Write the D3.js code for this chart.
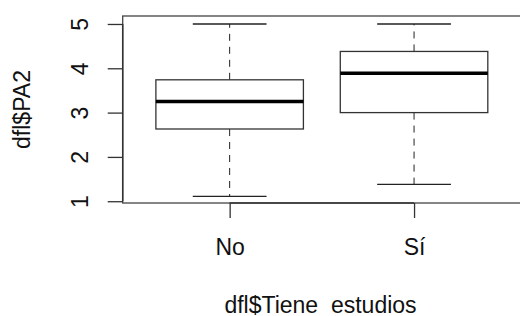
<!DOCTYPE html>
<meta charset="utf-8">
<script src="https://d3js.org/d3.v7.min.js"></script>
<style>
  body { margin: 0; background: #fff; }
  text { font-family: "Liberation Sans", Arial, sans-serif; fill: #111; }
</style>
<div id="chart"></div>
<script>
// boxplot data
const categories = ["No", "Sí"];
const lowWhisker = [1.11, 1.38];
const q1 = [2.63, 3.0];
const median = [3.25, 3.89];
const q3 = [3.74, 4.38];
const highWhisker = [5, 5];
const yTicks = [1, 2, 3, 4, 5];

const W = 520, H = 316;
const plot = {left: 122.7, right: 521, top: 16, bottom: 203};
const fs = 23;

const svg = d3.select("#chart").append("svg")
  .attr("width", W).attr("height", H);

// R style range: 0.5..n+0.5 plus 4%
const x = d3.scaleLinear().domain([0.42, 2.58]).range([plot.left, plot.right]);
const y = d3.scaleLinear().domain([0.96, 5.18]).range([plot.bottom, plot.top]);

const boxes = categories.map((c, i) => ({
  cat: c, pos: i + 1, lo: lowWhisker[i], q1: q1[i], med: median[i], q3: q3[i], hi: highWhisker[i]
}));

const g = svg.append("g");
const bw = 0.4, cw = 0.2;

// whiskers (dashed)
g.selectAll(".wh").data(boxes).enter().append("line")
  .attr("x1", d => x(d.pos)).attr("x2", d => x(d.pos))
  .attr("y1", d => y(d.q3)).attr("y2", d => y(d.hi))
  .attr("stroke", "#222").attr("stroke-dasharray", "7,6");
g.selectAll(".wl").data(boxes).enter().append("line")
  .attr("x1", d => x(d.pos)).attr("x2", d => x(d.pos))
  .attr("y1", d => y(d.q1)).attr("y2", d => y(d.lo))
  .attr("stroke", "#222").attr("stroke-dasharray", "7,6");

// caps
["lo", "hi"].forEach(k => {
  g.selectAll(".cap" + k).data(boxes).enter().append("line")
    .attr("x1", d => x(d.pos - cw)).attr("x2", d => x(d.pos + cw))
    .attr("y1", d => y(d[k])).attr("y2", d => y(d[k]))
    .attr("stroke", "#222").attr("stroke-width", 1.3);
});

// boxes
g.selectAll(".box").data(boxes).enter().append("rect")
  .attr("x", d => x(d.pos - bw))
  .attr("width", d => x(d.pos + bw) - x(d.pos - bw))
  .attr("y", d => y(d.q3))
  .attr("height", d => y(d.q1) - y(d.q3))
  .attr("fill", "#fff").attr("stroke", "#333").attr("stroke-width", 1.3);

// medians
g.selectAll(".med").data(boxes).enter().append("line")
  .attr("x1", d => x(d.pos - bw)).attr("x2", d => x(d.pos + bw))
  .attr("y1", d => y(d.med)).attr("y2", d => y(d.med))
  .attr("stroke", "#000").attr("stroke-width", 3.5);

// frame
svg.append("rect")
  .attr("x", plot.left).attr("y", plot.top)
  .attr("width", plot.right - plot.left).attr("height", plot.bottom - plot.top)
  .attr("fill", "none").attr("stroke", "#444").attr("stroke-width", 1.3);

// y axis
const ya = svg.append("g").attr("transform", `translate(${plot.left},0)`)
  .call(d3.axisLeft(y).tickValues(yTicks).tickSize(15).tickFormat(d3.format("d")));
ya.select(".domain").remove();
ya.selectAll(".tick line").attr("stroke", "#333").attr("stroke-width", 1.3);
ya.selectAll(".tick text")
  .attr("font-size", fs).attr("x", 0).attr("dy", 0)
  .attr("transform", "translate(-35,0) rotate(-90)")
  .attr("text-anchor", "middle").attr("fill", "#111");
ya.append("line").attr("x1", 0).attr("x2", 0)
  .attr("y1", y(yTicks[0])).attr("y2", y(yTicks[yTicks.length - 1]))
  .attr("stroke", "#333").attr("stroke-width", 1.5);

// x axis
const xa = svg.append("g").attr("transform", `translate(0,${plot.bottom})`)
  .call(d3.axisBottom(x).tickValues([1, 2]).tickSize(15).tickFormat(d => categories[d - 1]));
xa.select(".domain").remove();
xa.selectAll(".tick line").attr("stroke", "#333").attr("stroke-width", 1.3);
xa.selectAll(".tick text").attr("font-size", fs).attr("y", 52).attr("dy", 0).attr("fill", "#111");
xa.append("line").attr("x1", x(1)).attr("x2", x(2)).attr("y1", 0).attr("y2", 0)
  .attr("stroke", "#333").attr("stroke-width", 1.5);

// axis titles
svg.append("text").attr("x", 320.5).attr("y", 312.5)
  .attr("text-anchor", "middle").attr("font-size", fs).text("dfl$Tiene_estudios");
svg.append("text").attr("transform", `translate(30,${(plot.top + plot.bottom) / 2}) rotate(-90)`)
  .attr("text-anchor", "middle").attr("font-size", fs).text("dfl$PA2");
</script>
